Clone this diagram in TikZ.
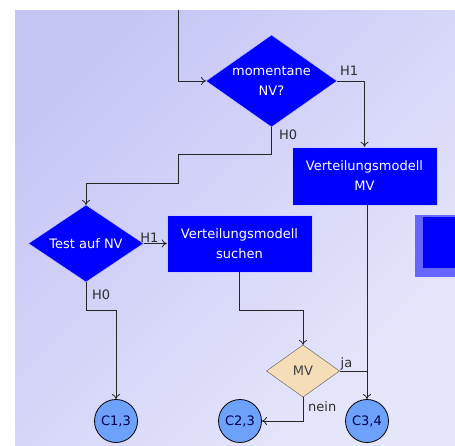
\documentclass[tikz,border=0pt]{standalone}
\usepackage{fontspec}
\setmainfont{DejaVu Sans}
\usepackage{xcolor}
\usepackage{tikz}
\usetikzlibrary{shapes.geometric, arrows.meta}

\definecolor{bgdark}{RGB}{198,198,246}
\definecolor{bglight}{RGB}{230,230,251}
\definecolor{pureblue}{RGB}{0,0,255}
\definecolor{circblue}{RGB}{110,162,250}
\definecolor{wheat}{RGB}{245,222,183}
\definecolor{labelgray}{RGB}{45,45,45}

\begin{document}
\begin{tikzpicture}[x=1pt, y=-1pt, font=\fontsize{13}{20}\selectfont, >={To[length=5pt, width=8pt]}]
\tikzstyle{decision}=[diamond, fill=pureblue, draw=white!80!pureblue, text=white, align=center, inner sep=0pt, outer sep=0pt]
\tikzstyle{process}=[rectangle, fill=pureblue, draw=white!80!pureblue, text=white, align=center, inner sep=0pt]
\tikzstyle{connector}=[circle, fill=circblue, draw=black, thick, text=black!70!blue, minimum size=43pt, inner sep=0pt]
\tikzstyle{lbl}=[text=labelgray, inner sep=1pt]
\tikzstyle{flow}=[draw=black!85, thick]

% frame and background
\useasboundingbox (0,0) rectangle (455,445);
\fill[white] (0,0) rectangle (455,445);
\shade[left color=bgdark, right color=bglight, shading angle=45] (15,10) rectangle (455,445);

% nodes
\node[decision, shape aspect=1.42, minimum width=131pt, minimum height=92pt] (nvnow) at (271.5,81) {momentane\\NV?};
\node[process, minimum width=145pt, minimum height=58pt] (modmv) at (364.5,176) {Verteilungsmodell\\MV};
\node[decision, shape aspect=1.5, minimum width=115pt, minimum height=77pt] (nvtest) at (86,243.5) {Test auf NV};
\node[process, minimum width=145pt, minimum height=57pt] (modfind) at (239.5,243.5) {Verteilungsmodell\\suchen};
\node[decision, shape aspect=1.4, fill=wheat, draw=black!65, text=black!75, minimum width=73pt, minimum height=52pt] (mvq) at (303,371) {MV};
\node[connector] (c13) at (116,421) {C1,3};
\node[connector] (c23) at (240,421) {C2,3};
\node[connector] (c34) at (367,421) {C3,4};

% blurred box at the right edge
\fill[pureblue!60] (415,215) rectangle (455,277);
\fill[pureblue] (423,217) rectangle (455,268);

\coordinate (entry) at (178,10);

% connectors
\draw[flow, ->] (entry) |- (nvnow.west);
\draw[flow, ->] (nvnow.east) -| (modmv.north);
\node[lbl, anchor=south west] at ([xshift=2pt, yshift=4pt]nvnow.east) {H1};
\draw[flow, ->] (nvnow.south) -- ++(0,27) -| (178,183) -| (nvtest.north);
\node[lbl, anchor=west] at (278,135) {H0};
\draw[flow, ->] (nvtest.east) -- node[lbl, pos=0.25, above] {H1} (modfind.west);
\draw[flow, ->] (nvtest.south) -- ++(0,28) -| (c13.north);
\node[lbl, anchor=west] at (91,295) {H0};
\draw[flow, ->] (modfind.south) -- ++(0,38) -| (mvq.north);
\draw[flow, ->] (modmv.south -| c34.north) -- (c34.north);
\draw[flow] (mvq.east) -- (mvq.east -| c34.north);
\node[lbl, anchor=south west] at (mvq.east) {ja};
\draw[flow, ->] (mvq.south) |- (c23.east);
\node[lbl, anchor=west] at (307,407) {nein};
\end{tikzpicture}
\end{document}
